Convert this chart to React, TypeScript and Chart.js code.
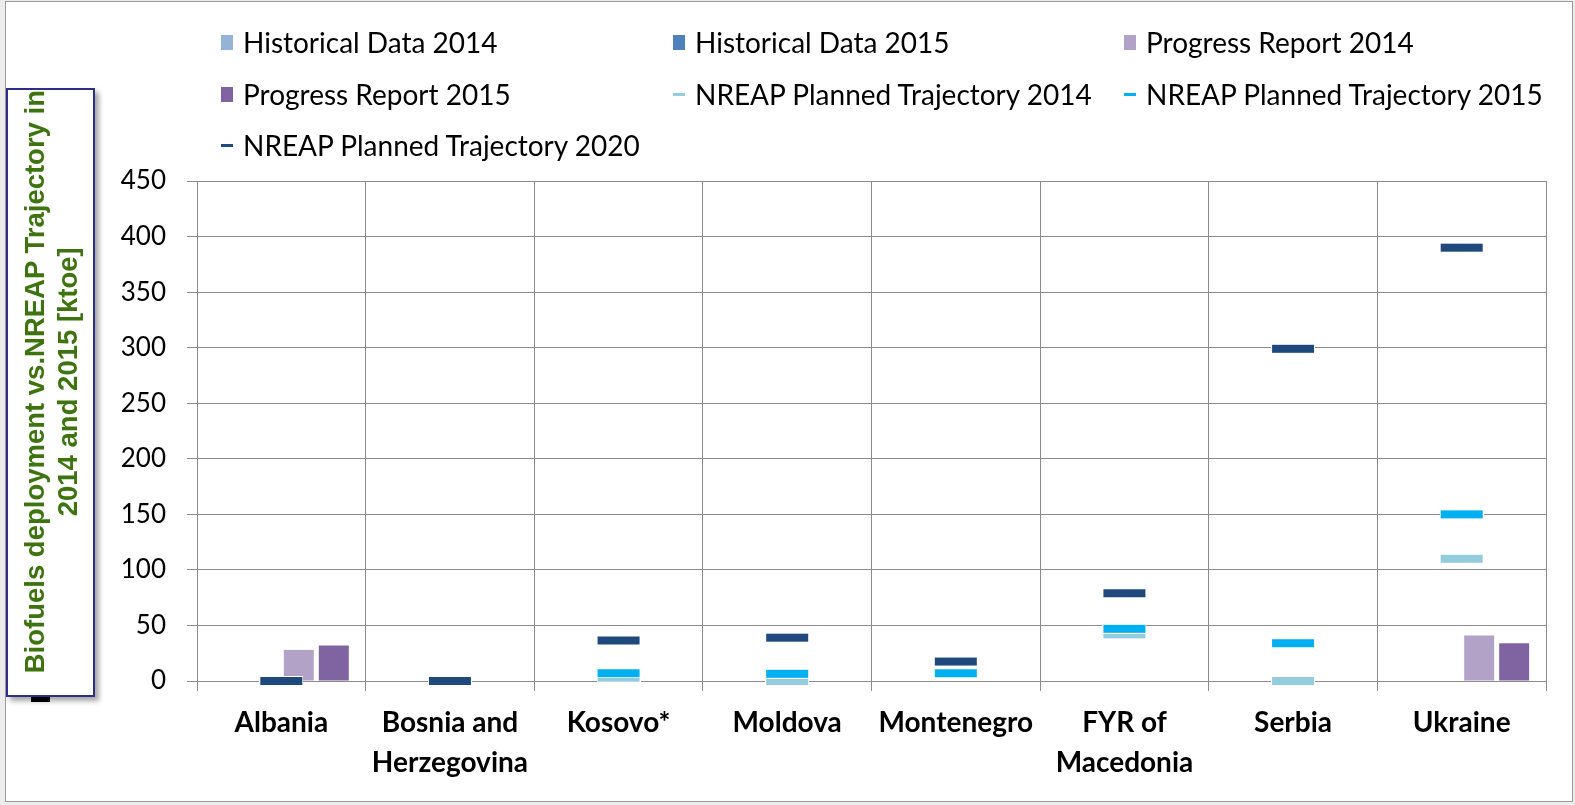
import React, { useEffect, useRef } from 'react';
import { Chart, registerables } from 'chart.js';

Chart.register(...registerables);

// ---- data ----
const categories: string[][] = [
  ['Albania'],
  ['Bosnia and', 'Herzegovina'],
  ['Kosovo*'],
  ['Moldova'],
  ['Montenegro'],
  ['FYR of', 'Macedonia'],
  ['Serbia'],
  ['Ukraine'],
];

const historical2014: (number | null)[] = [null, null, null, null, null, null, null, null];
const historical2015: (number | null)[] = [null, null, null, null, null, null, null, null];
const progress2014: (number | null)[] = [28, null, null, null, null, null, null, 41];
const progress2015: (number | null)[] = [32, null, null, null, null, null, null, 34];
const nreap2014: (number | null)[] = [0, 0, 3, 0, 7, 42, 0, 110];
const nreap2015: (number | null)[] = [0, 0, 7, 6.5, 7, 47, 34, 150];
const nreap2020: (number | null)[] = [0, 0, 36.5, 39, 17.5, 79, 299, 390];

const seriesNames = [
  'Historical Data 2014',
  'Historical Data 2015',
  'Progress Report 2014',
  'Progress Report 2015',
  'NREAP Planned Trajectory 2014',
  'NREAP Planned Trajectory 2015',
  'NREAP Planned Trajectory 2020',
];
const seriesColors = ['#95B3D7', '#4F81BD', '#B3A2C7', '#8064A2', '#93CDDD', '#00B0F0', '#1F497D'];
const seriesKinds = ['bar', 'bar', 'bar', 'bar', 'line', 'line', 'line'];

const yMin = 0;
const yMax = 450;
const yStep = 50;

const axisTitleLines = ['Biofuels deployment vs.NREAP Trajectory in', '2014 and 2015 [ktoe]'];

const FONT = 'Lato, "Open Sans", sans-serif';

function makeDash(color: string): HTMLCanvasElement {
  const cv = document.createElement('canvas');
  cv.width = 44;
  cv.height = 10;
  const c = cv.getContext('2d')!;
  c.fillStyle = '#ffffff';
  c.fillRect(0, 0, 44, 10);
  c.fillStyle = color;
  c.fillRect(1, 1, 42, 8);
  return cv;
}

export default function App() {
  const ref = useRef<HTMLCanvasElement>(null);

  useEffect(() => {
    if (!ref.current) return;
    const barData = [historical2014, historical2015, progress2014, progress2015];
    const lineData = [nreap2014, nreap2015, nreap2020];
    const datasets: any[] = [];
    barData.forEach((d, i) => {
      datasets.push({
        type: 'bar',
        label: seriesNames[i],
        data: d,
        backgroundColor: seriesColors[i],
        borderWidth: 0,
        categoryPercentage: 0.83,
        barPercentage: 0.857,
        order: 10,
      });
    });
    lineData.forEach((d, j) => {
      const i = 4 + j;
      datasets.push({
        type: 'line',
        label: seriesNames[i],
        data: d,
        showLine: false,
        borderColor: seriesColors[i],
        backgroundColor: seriesColors[i],
        pointStyle: makeDash(seriesColors[i]),
        pointRadius: 6,
        pointHoverRadius: 6,
        clip: false,
        order: 3 - j,
      });
    });

    const chart = new Chart(ref.current, {
      type: 'bar',
      data: { labels: categories as any, datasets },
      options: {
        responsive: false,
        animation: false,
        events: [],
        layout: { padding: { left: 0, right: 29, top: 181, bottom: 0 } },
        plugins: {
          legend: { display: false },
          tooltip: { enabled: false },
        },
        scales: {
          x: {
            offset: true,
            grid: { color: '#8c8c8c', lineWidth: 1, tickLength: 10, drawTicks: true, offset: true },
            border: { color: '#8c8c8c' },
            ticks: {
              color: '#000',
              font: { family: FONT, size: 28, weight: 'bold', lineHeight: 1.43 },
              padding: 12,
              maxRotation: 0,
              autoSkip: false,
            },
            afterFit: (s: any) => {
              s.height = 124;
            },
          },
          y: {
            min: yMin,
            max: yMax,
            grid: { color: '#8c8c8c', lineWidth: 1, tickLength: 10 },
            border: { color: '#8c8c8c' },
            ticks: {
              stepSize: yStep,
              color: '#000',
              font: { family: FONT, size: 26 },
              padding: 21,
            },
            afterFit: (s: any) => {
              s.width = 197;
            },
          },
        },
      } as any,
    });
    return () => chart.destroy();
  }, []);

  const legendCols = [221, 673, 1124];
  const legendRows = [42, 94, 145];

  return (
    <div
      style={{
        position: 'fixed',
        left: 0,
        top: 0,
        width: 1575,
        height: 805,
        background: '#ececec',
        overflow: 'hidden',
      }}
    >
      <div
        style={{
          position: 'absolute',
          left: 5,
          top: 1,
          width: 1568,
          height: 801,
          background: '#ffffff',
          border: '1px solid #9b9b9b',
          boxSizing: 'border-box',
        }}
      />
      <canvas
        ref={ref}
        width={1575}
        height={805}
        style={{ position: 'absolute', left: 0, top: 0, width: 1575, height: 805 }}
      />
      {seriesNames.map((name, i) => {
        const col = i % 3;
        const row = Math.floor(i / 3);
        const cx = legendCols[col];
        const cy = legendRows[row];
        const isBar = seriesKinds[i] === 'bar';
        return (
          <div
            key={name}
            style={{
              position: 'absolute',
              left: cx,
              top: cy - 20,
              height: 40,
              display: 'flex',
              alignItems: 'center',
              whiteSpace: 'nowrap',
            }}
          >
            <div
              style={{
                width: 12,
                height: isBar ? 15 : 3,
                background: seriesColors[i],
                marginRight: 10,
                marginTop: 1,
              }}
            />
            <span style={{ fontFamily: FONT, fontSize: 28, color: '#000', lineHeight: '40px' }}>{name}</span>
          </div>
        );
      })}
      <div
        style={{
          position: 'absolute',
          left: 31,
          top: 696,
          width: 19,
          height: 6,
          background: '#000',
        }}
      />
      <div
        style={{
          position: 'absolute',
          left: 6,
          top: 88,
          width: 89,
          height: 609,
          background: '#ffffff',
          border: '2px solid #2b2f86',
          boxSizing: 'border-box',
          boxShadow: '4px 4px 5px rgba(0,0,0,0.35)',
          display: 'flex',
          alignItems: 'center',
          justifyContent: 'center',
          paddingBottom: 22,
        }}
      >
        <div
          style={{
            writingMode: 'vertical-rl',
            transform: 'rotate(180deg)',
            fontFamily: '"Liberation Sans", Arial, sans-serif',
            fontWeight: 'bold',
            fontSize: 27.5,
            lineHeight: '33px',
            color: '#3e7410',
            textAlign: 'center',
            whiteSpace: 'nowrap',
          }}
        >
          {axisTitleLines.map((l, i) => (
            <React.Fragment key={i}>
              {l}
              {i < axisTitleLines.length - 1 ? <br /> : null}
            </React.Fragment>
          ))}
        </div>
      </div>
    </div>
  );
}
